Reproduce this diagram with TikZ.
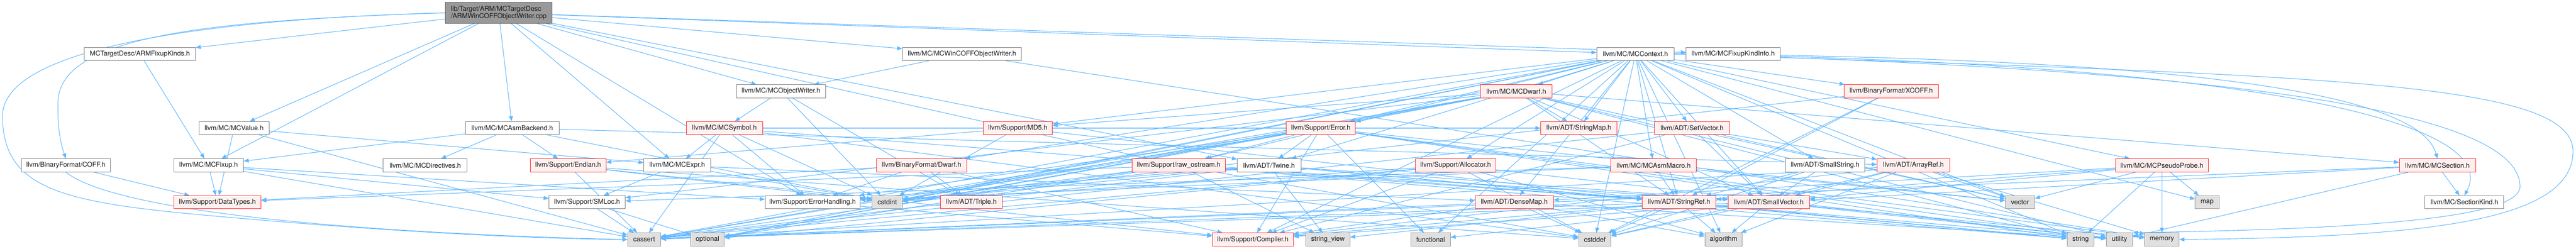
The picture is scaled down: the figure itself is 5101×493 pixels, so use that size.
\documentclass[tikz,border=0pt]{standalone}
\usepackage{fontspec}
\setmainfont{TeX Gyre Heros}
\usetikzlibrary{arrows.meta}
\pgfdeclarelayer{bg}
\pgfsetlayers{bg,main}
\definecolor{edgeblue}{HTML}{63B8FF}
\definecolor{nodegray}{HTML}{808080}
\definecolor{nodered}{HTML}{FF2A2A}
\definecolor{redfill}{HTML}{FFF0F0}
\definecolor{sysfill}{HTML}{E0E0E0}
\definecolor{sysgray}{HTML}{999999}
\definecolor{rootfill}{HTML}{999999}
\definecolor{rootdraw}{HTML}{666666}
\tikzset{
  base/.style={draw, rectangle, minimum height=26pt, inner sep=0pt, line width=1pt,
    font=\fontsize{13.3}{15}\selectfont, text=black!90},
  wbox/.style={base, fill=white, draw=nodegray},
  rbox/.style={base, fill=redfill, draw=nodered},
  gbox/.style={base, fill=sysfill, draw=sysgray},
  rootbox/.style={base, fill=rootfill, draw=rootdraw, minimum height=41pt, align=left},
  dep/.style={draw=edgeblue, line width=1.1pt, -{Triangle[length=10pt,width=8pt]}},
}
\begin{document}
\begin{tikzpicture}[x=1pt,y=-1pt]
\useasboundingbox (0,0) rectangle (5101,493);
% row 0
\node[rootbox, minimum width=211pt] (root) at (987.5,25.5) {lib/Target/ARM/MCTargetDesc\\/ARMWinCOFFObjectWriter.cpp};
% row 1
\node[wbox, minimum width=220pt] (fixk) at (277,107) {MCTargetDesc/ARMFixupKinds.h};
\node[wbox, minimum width=236pt] (wcow) at (1905,107) {llvm/MC/MCWinCOFFObjectWriter.h};
\node[wbox, minimum width=153pt] (ctx) at (3238.5,107) {llvm/MC/MCContext.h};
\node[wbox, minimum width=186pt] (fki) at (3432,107) {llvm/MC/MCFixupKindInfo.h};
% row 2
\node[wbox, minimum width=177pt] (ow) at (1546.5,181) {llvm/MC/MCObjectWriter.h};
\node[rbox, minimum width=141pt] (dwarfmc) at (3002.5,181) {llvm/MC/MCDwarf.h};
\node[rbox, minimum width=186pt] (xcoff) at (3745,181) {llvm/BinaryFormat/XCOFF.h};
% row 3
\node[wbox, minimum width=139pt] (value) at (463.5,254) {llvm/MC/MCValue.h};
\node[wbox, minimum width=185pt] (asmb) at (1014.5,254) {llvm/MC/MCAsmBackend.h};
\node[rbox, minimum width=151pt] (sym) at (1434.5,254) {llvm/MC/MCSymbol.h};
\node[rbox, minimum width=137pt] (md5) at (2015.5,254) {llvm/Support/MD5.h};
\node[rbox, minimum width=137pt] (err) at (2615.5,254) {llvm/Support/Error.h};
\node[rbox, minimum width=151pt] (smap) at (3126.5,254) {llvm/ADT/StringMap.h};
\node[rbox, minimum width=149pt] (setv) at (3350.5,254) {llvm/ADT/SetVector.h};
% row 4
\node[wbox, minimum width=177pt] (coff) at (130.5,328) {llvm/BinaryFormat/COFF.h};
\node[wbox, minimum width=138pt] (fixup) at (413,328) {llvm/MC/MCFixup.h};
\node[wbox, minimum width=166pt] (dir) at (842,328) {llvm/MC/MCDirectives.h};
\node[rbox, minimum width=150pt] (endian) at (1125,328) {llvm/Support/Endian.h};
\node[wbox, minimum width=132pt] (expr) at (1341,328) {llvm/MC/MCExpr.h};
\node[rbox, minimum width=178pt] (bfdwarf) at (1825,328) {llvm/BinaryFormat/Dwarf.h};
\node[rbox, minimum width=184pt] (rawos) at (2334,328) {llvm/Support/raw\_ostream.h};
\node[wbox, minimum width=126pt] (twine) at (2513,328) {llvm/ADT/Twine.h};
\node[rbox, minimum width=159pt] (alloc) at (2882.5,328) {llvm/Support/Allocator.h};
\node[rbox, minimum width=169pt] (macro) at (3274.5,328) {llvm/MC/MCAsmMacro.h};
\node[wbox, minimum width=158pt] (sstr) at (3614,328) {llvm/ADT/SmallString.h};
\node[rbox, minimum width=144pt] (aref) at (3789,328) {llvm/ADT/ArrayRef.h};
\node[rbox, minimum width=184pt] (probe) at (4281,328) {llvm/MC/MCPseudoProbe.h};
\node[rbox, minimum width=151pt] (sect) at (4826.5,328) {llvm/MC/MCSection.h};
% row 5
\node[rbox, minimum width=173pt] (dtypes) at (430.5,401) {llvm/Support/DataTypes.h};
\node[wbox, minimum width=151pt] (smloc) at (1162.5,401) {llvm/Support/SMLoc.h};
\node[wbox, minimum width=188pt] (ehand) at (1609,401) {llvm/Support/ErrorHandling.h};
\node[gbox, minimum width=60pt] (cstdint) at (1757,401) {cstdint};
\node[rbox, minimum width=123pt] (triple) at (1923.5,401) {llvm/ADT/Triple.h};
\node[rbox, minimum width=155pt] (dmap) at (2998.5,401) {llvm/ADT/DenseMap.h};
\node[rbox, minimum width=146pt] (sref) at (3325,401) {llvm/ADT/StringRef.h};
\node[rbox, minimum width=161pt] (svec) at (3502.5,401) {llvm/ADT/SmallVector.h};
\node[gbox, minimum width=58pt] (vector) at (4000,401) {vector};
\node[gbox, minimum width=47pt] (map) at (4370.5,401) {map};
\node[wbox, minimum width=156pt] (skind) at (4880,401) {llvm/MC/SectionKind.h};
% row 6
\node[gbox, minimum width=65pt] (cassert) at (1275.5,475) {cassert};
\node[gbox, minimum width=66pt] (optional) at (1401,475) {optional};
\node[rbox, minimum width=160pt] (compiler) at (2481,475) {llvm/Support/Compiler.h};
\node[gbox, minimum width=87pt] (sview) at (2629.5,475) {string\_view};
\node[gbox, minimum width=78pt] (functional) at (2833,475) {functional};
\node[gbox, minimum width=64pt] (cstddef) at (3158,475) {cstddef};
\node[gbox, minimum width=74pt] (algorithm) at (3413,475) {algorithm};
\node[gbox, minimum width=54pt] (string) at (4120,475) {string};
\node[gbox, minimum width=52pt] (utility) at (4197,475) {utility};
\node[gbox, minimum width=68pt] (memory) at (4281,475) {memory};

\begin{pgfonlayer}{bg}
\foreach \a/\b in {
 root/fixk, root/wcow, root/ctx, root/fki, root/ow, root/value, root/asmb, root/fixup,
 root/expr, root/ehand, root/rawos, root/twine,
 fixk/fixup, wcow/ow, wcow/memory,
 ctx/dwarfmc, ctx/xcoff, ctx/smap, ctx/setv, ctx/bfdwarf, ctx/md5, ctx/err, ctx/macro,
 ctx/sstr, ctx/probe, ctx/alloc, ctx/rawos, ctx/twine, ctx/dmap, ctx/sref, ctx/svec,
 ctx/compiler, ctx/algorithm, ctx/cassert, ctx/cstddef, ctx/cstdint, ctx/functional,
 ctx/map, ctx/optional, ctx/string, ctx/vector,
 ow/sym, ow/triple, ow/cstdint,
 dwarfmc/smap, dwarfmc/sref, dwarfmc/svec, dwarfmc/sect, dwarfmc/err, dwarfmc/md5,
 dwarfmc/smloc, dwarfmc/cassert, dwarfmc/cstdint, dwarfmc/optional, dwarfmc/string,
 dwarfmc/utility, dwarfmc/vector,
 xcoff/sref, xcoff/cstddef, xcoff/cstdint,
 value/expr, value/dtypes, value/cassert,
 asmb/aref, asmb/dir, asmb/fixup, asmb/endian, asmb/cstdint,
 sym/smap, sym/sref, sym/expr, sym/ehand, sym/cassert, sym/cstddef, sym/cstdint,
 md5/endian, md5/sref, md5/cstdint,
 err/twine, err/compiler, err/ehand, err/rawos, err/cassert, err/cstdint, err/functional,
 err/memory, err/optional, err/string, err/utility, err/vector,
 setv/aref, setv/svec, setv/compiler, setv/cassert, setv/vector,
 coff/dtypes,
 fixup/dtypes, fixup/ehand, fixup/smloc, fixup/cassert,
 endian/compiler, endian/cassert, endian/cstddef, endian/cstdint,
 expr/dmap, expr/smloc, expr/cstdint,
 bfdwarf/compiler, bfdwarf/dtypes, bfdwarf/ehand, bfdwarf/triple,
 rawos/svec, rawos/sref, rawos/dtypes, rawos/cassert, rawos/cstddef, rawos/cstdint,
 rawos/optional, rawos/string, rawos/sview,
 twine/svec, twine/sref, twine/ehand, twine/cassert, twine/cstdint, twine/string, twine/sview,
 alloc/compiler, alloc/algorithm, alloc/cassert, alloc/cstddef, alloc/cstdint,
 alloc/optional, alloc/utility,
 macro/sref, macro/ehand, macro/smloc, macro/vector,
 sstr/svec, sstr/sref, sstr/cstddef,
 aref/svec, aref/compiler, aref/algorithm, aref/cassert, aref/cstddef, aref/memory, aref/vector,
 probe/dmap, probe/svec, probe/sref, probe/map, probe/memory, probe/string, probe/vector,
 sect/svec, sect/skind, sect/cassert, sect/utility,
 smloc/cassert, smloc/optional,
 ehand/compiler,
 dmap/compiler, dmap/algorithm, dmap/cassert, dmap/cstddef, dmap/utility,
 sref/compiler, sref/algorithm, sref/cassert, sref/cstddef, sref/string, sref/sview, sref/utility,
 svec/compiler, svec/algorithm, svec/cassert, svec/cstddef, svec/functional, svec/memory, svec/utility}{ \draw[dep] (\a) -- (\b); }
% curved connectors
\draw[dep] (root.west) .. controls (420,40) and (120,70) .. (115,200) .. controls (113,260) and (122,290) .. (coff.north);
\draw[dep] (root.west) .. controls (500,35) and (5,80) .. (5,230) .. controls (5,390) and (150,405) .. (500,435) .. controls (850,465) and (1100,474) .. (cassert.west);
\draw[dep] (coff.south) .. controls (230,420) and (700,462) .. (cassert.west);
\draw[dep] (ctx.east) .. controls (4300,115) and (4790,180) .. (sect.north);
\draw[dep] (ctx.east) .. controls (4450,125) and (4960,240) .. (skind.north);
\draw[dep] (ctx.east) .. controls (4600,150) and (5095,160) .. (5095,300) .. controls (5095,440) and (4800,470) .. (memory.east);
\draw[dep] (ctx.east) .. controls (4500,140) and (4990,230) .. (4990,370) .. controls (4990,440) and (4600,455) .. (utility.north east);
\end{pgfonlayer}
\end{tikzpicture}
\end{document}
